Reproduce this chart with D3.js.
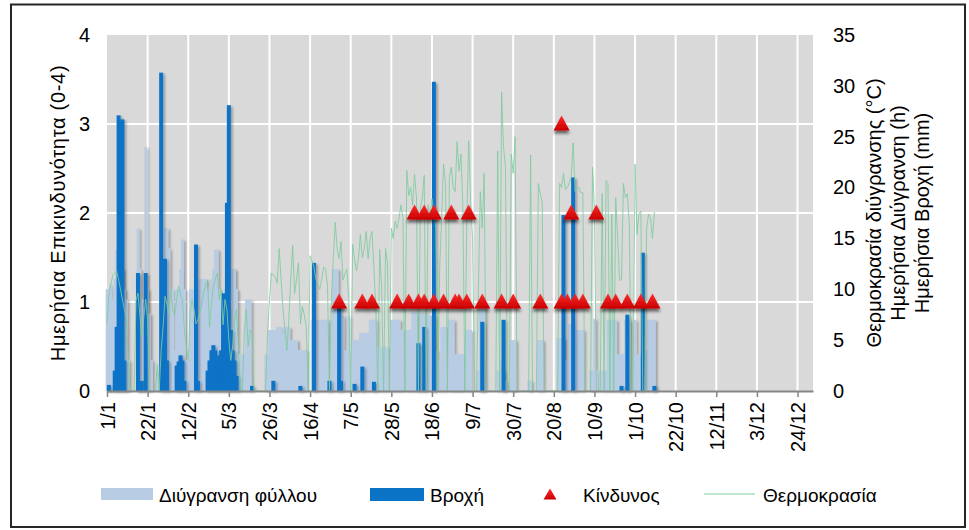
<!DOCTYPE html>
<html>
<head>
<meta charset="utf-8">
<script src="https://cdn.jsdelivr.net/npm/d3@7"></script>
<style>
body { margin: 0; background: #fff; }
text { font-family: Arial, "Liberation Sans", sans-serif; fill: #000; }
</style>
</head>
<body>
<script>
// Daily leaf-wetness risk chart: wetness hours, rain, temperature during wetness and risk level.

var width = 969,
    height = 530,
    margin = {left: 107, top: 35, right: 813, bottom: 391};

// x axis ticks (day of year, starting 1/1)
var tickDays = [0, 21, 42, 63, 84, 105, 126, 147, 168, 189, 210, 231, 252, 273, 294, 315, 336, 357];
var tickLabels = ['1/1', '22/1', '12/2', '5/3', '26/3', '16/4', '7/5', '28/5', '18/6', '9/7',
    '30/7', '20/8', '10/9', '1/10', '22/10', '12/11', '3/12', '24/12'];

// Leaf wetness (h), one value per day from 1/1
var leafWetness = [
    10, 10, 10.5, 9, 11, 13.9, 12, 12, 12, 10,
    9, 3, 0, 0, 0, 0, 16, 12, 9, 8,
    24, 10, 7.6, 3, 0, 0, 2, 0, 10, 12,
    16, 16, 14, 10, 10, 4, 10, 10, 12, 14.9,
    10, 3, 3, 10, 10, 10, 10, 10, 11, 11,
    11, 11, 10, 10, 11, 12, 13.9, 13.9, 10, 9,
    9, 10, 8, 8, 6, 12, 12, 10, 3.6, 3.6,
    3.6, 3.6, 9, 9, 9, 0, 0, 0, 0, 0,
    0, 0, 3.6, 3.6, 6, 6, 6, 6, 6.3, 6.3,
    6.3, 5.7, 6.3, 6.3, 6.3, 5, 5, 5, 5, 4,
    4, 4, 4, 4, 0, 0, 7, 7, 7, 7,
    7, 7, 7, 7, 7, 1, 7, 12, 12, 12,
    7.4, 7.4, 7.4, 4, 4, 7.4, 0, 5, 5, 5,
    5, 5.7, 5.7, 5.7, 5.7, 5.7, 7, 7, 7, 7,
    4.3, 4.3, 4.3, 4.3, 4.3, 4.3, 0, 7, 7, 7,
    7, 7, 6, 6, 0, 6, 6, 6, 7.7, 7.7,
    7.7, 0, 7.7, 7.7, 7.7, 0, 7.4, 7.4, 7.4, 7.4,
    4, 0, 3, 6.3, 6.3, 6.3, 0, 7, 7, 7,
    3.6, 3.6, 3.6, 3.6, 3.6, 0, 6, 6, 6, 0,
    0, 0, 2, 8.3, 8.3, 8.3, 0, 0, 0, 0,
    0, 0, 2, 0, 3, 2, 1, 0, 0, 5,
    5, 5, 0, 0, 0, 0, 0, 0, 1, 1,
    0, 0, 0, 5, 5, 5, 0, 0, 0, 0,
    0, 0, 0, 5.2, 5.2, 5.2, 5.2, 3, 3, 6.6,
    6.6, 6, 6, 6, 6, 6, 6, 0, 0, 0,
    2, 2, 7.1, 2, 0, 2, 2, 2, 2, 7,
    7, 7, 7, 7, 3.6, 3.6, 3.6, 3.6, 7, 7,
    7, 0, 0, 7, 3.6, 3.6, 3.6, 0, 0, 4,
    7, 7, 7, 7
];

// Temperature during wetness (°C), one value per day from 1/1
var temperature = [
    6.7, 9.5, 10.5, 11.4, 11.6, 11.8, 10.9, 10, 9, 8,
    7.4, 3, 0, 0, 0, 8.9, 9.6, 7.5, 5.5, 7.2,
    9, 7, 0, 0, 0, 0, 2.6, 0, 4, 6.3,
    9.3, 8.5, 7.5, 10, 8, 7.4, 9, 10.3, 9.5, 9,
    6, 4.4, 3, 7.7, 9, 8, 6.6, 7, 7.7, 8.5,
    9.7, 10.5, 10.9, 6.3, 8.5, 10.3, 11, 11.6, 9, 10,
    6.5, 9, 8, 5, 3, 4.5, 7, 8, 4, 0.3,
    0, 6, 8, 4.4, 6, 5.7, 0, 0, 0, 0,
    0, 0, 0, 5.5, 9, 11.6, 11.4, 11.2, 10.6, 14,
    11, 8, 6, 4, 7, 11, 14.3, 9.6, 11, 12.6,
    6.6, 8.3, 7.5, 6.3, 0, 13.3, 12.8, 12.2, 11, 10.5,
    10, 11, 12.2, 12, 10.3, 0, 9, 13, 16.6, 14,
    13, 14.7, 10.9, 11.5, 12, 9, 0, 14.4, 13, 11.8,
    13, 15.4, 13.1, 14, 15.7, 13, 15, 15.7, 12, 8,
    0, 13.9, 10, 0, 14, 12.6, 0, 16, 15, 16.7,
    16, 17, 18.3, 17, 0, 21.7, 19.2, 20, 18.3, 21.3,
    19, 0, 18, 19, 21.2, 0, 18.3, 17, 18.9, 17.5,
    16, 0, 12, 17, 22.3, 20.4, 0, 21, 22, 20,
    19.6, 24.5, 21.6, 23.3, 18, 0, 17, 24.6, 18.6, 15,
    0, 0, 10, 19.6, 16, 21.4, 0, 0, 0, 0,
    0, 0, 23.6, 0, 29.4, 24, 22, 0, 0, 23.3,
    21.4, 25, 0, 0, 0, 0, 0, 0, 0, 23.2,
    0, 0, 0, 20.4, 19.4, 18.5, 0, 0, 0, 0,
    0, 0, 0, 0, 20.4, 20, 21.4, 19.8, 20, 20.5,
    21, 24.4, 19.6, 20, 20, 19.5, 19.5, 0, 0, 0,
    0, 22, 18, 0, 0, 0, 19.4, 0, 20.7, 20.4,
    0, 17.4, 0, 19, 15, 10.9, 10.9, 20.4, 19, 19.4,
    16.6, 0, 0, 22.3, 15.4, 17.4, 17.7, 0, 0, 16,
    17.4, 17, 15, 17.6
];

// Rain (mm): [day, mm], only rainy days
var rain = [
    [1, 0.6], [4, 2], [5, 6.3], [6, 27.1], [7, 26.6], [8, 26.7], [9, 3],
    [16, 11.6], [18, 1], [20, 11.6], [28, 31.3], [29, 8], [30, 13], [31, 3],
    [36, 2.5], [37, 2.9], [38, 3.5], [39, 3], [40, 1], [46, 14.4], [47, 1],
    [52, 2], [53, 3], [54, 4], [55, 4.5], [56, 4], [57, 3], [58, 3.5], [59, 4],
    [60, 9.6], [61, 5], [62, 18.5], [63, 28.1], [64, 6], [65, 4], [66, 3], [67, 1.5],
    [75, 0.5], [86, 1], [100, 0.5], [107, 12.6], [115, 1], [120, 8.5], [121, 1],
    [128, 0.7], [132, 2.4], [138, 0.9], [161, 4.7], [164, 6.3], [169, 30.4],
    [194, 6.8], [205, 7], [236, 17.3], [241, 21], [266, 0.5], [269, 7.5],
    [277, 13.6], [283, 0.5]
];

// Risk (0-4): [day, level]
var risk = [
    [120, 1], [132, 1], [137, 1], [150, 1], [156, 1], [161, 1], [164, 1], [169, 1],
    [174, 1], [180, 1], [182, 1], [186, 1], [194, 1], [204, 1], [210, 1], [224, 1],
    [235, 1], [238, 1], [242, 1], [246, 1], [259, 1], [263, 1], [269, 1], [276, 1], [282, 1],
    [159, 2], [164, 2], [169, 2], [178, 2], [187, 2], [240, 2], [253, 2],
    [235, 3]
];

var colors = {
    wet: '#b8cce4',
    rain: '#0b73c6',
    risk: '#e00000',
    temp: '#7fcb9e',
    tempLegend: '#a8dfc2',
    plotBg: '#d9d9d9',
    axis: '#868686'
};

var svg = d3.select('body').append('svg')
    .attr('width', width)
    .attr('height', height);

var defs = svg.append('defs');

var shadow = defs.append('filter')
    .attr('id', 'shadow')
    .attr('x', '-20%').attr('y', '-20%')
    .attr('width', '140%').attr('height', '140%');
shadow.append('feDropShadow')
    .attr('dx', 2).attr('dy', 1.5)
    .attr('stdDeviation', 1)
    .attr('flood-color', '#000')
    .attr('flood-opacity', 0.28);

var triShadow = defs.append('filter')
    .attr('id', 'triShadow')
    .attr('x', '-50%').attr('y', '-50%')
    .attr('width', '200%').attr('height', '200%');
triShadow.append('feDropShadow')
    .attr('dx', 0).attr('dy', 3)
    .attr('stdDeviation', 1.8)
    .attr('flood-color', '#000')
    .attr('flood-opacity', 0.55);

var triGrad = defs.append('linearGradient')
    .attr('id', 'triGrad')
    .attr('x1', 0).attr('y1', 0).attr('x2', 0).attr('y2', 1);
triGrad.append('stop').attr('offset', '0%').attr('stop-color', '#ff2a2a');
triGrad.append('stop').attr('offset', '100%').attr('stop-color', '#c80000');

// outer frame
svg.append('rect')
    .attr('x', 11).attr('y', 4.5)
    .attr('width', 954).attr('height', 522.5)
    .attr('fill', 'none')
    .attr('stroke', '#262626')
    .attr('stroke-width', 2);

var xs = d3.scaleLinear().domain([0, 365]).range([margin.left, margin.right]);
var yLeft = d3.scaleLinear().domain([0, 4]).range([margin.bottom, margin.top]);
var yRight = d3.scaleLinear().domain([0, 35]).range([margin.bottom, margin.top]);

// plot area and grid
svg.append('rect')
    .attr('x', margin.left).attr('y', margin.top)
    .attr('width', margin.right - margin.left)
    .attr('height', margin.bottom - margin.top)
    .attr('fill', colors.plotBg);

var grid = svg.append('g');
grid.selectAll('.hgrid')
    .data([1, 2, 3])
    .enter()
    .append('line')
    .attr('x1', margin.left).attr('x2', margin.right)
    .attr('y1', function(d) { return yLeft(d); })
    .attr('y2', function(d) { return yLeft(d); })
    .attr('stroke', '#fff')
    .attr('stroke-width', 2);
grid.selectAll('.vgrid')
    .data(tickDays.slice(1))
    .enter()
    .append('line')
    .attr('x1', function(d) { return xs(d); })
    .attr('x2', function(d) { return xs(d); })
    .attr('y1', margin.top).attr('y2', margin.bottom)
    .attr('stroke', '#fff')
    .attr('stroke-width', 2);

// leaf wetness columns
svg.append('g')
    .attr('filter', 'url(#shadow)')
    .selectAll('rect')
    .data(leafWetness)
    .enter()
    .append('rect')
    .attr('x', function(d, i) { return xs(i) - 1.3; })
    .attr('width', 2.6)
    .attr('y', function(d) { return yRight(d); })
    .attr('height', function(d) { return yRight(0) - yRight(d); })
    .attr('fill', colors.wet);

// rain columns
svg.append('g')
    .attr('filter', 'url(#shadow)')
    .selectAll('rect')
    .data(rain)
    .enter()
    .append('rect')
    .attr('x', function(d) { return xs(d[0]) - 2; })
    .attr('width', 4)
    .attr('y', function(d) { return yRight(d[1]); })
    .attr('height', function(d) { return yRight(0) - yRight(d[1]); })
    .attr('fill', colors.rain);

// temperature line
var tempLine = d3.line()
    .x(function(d, i) { return xs(i); })
    .y(function(d) { return yRight(d); });

svg.append('path')
    .datum(temperature)
    .attr('d', tempLine)
    .attr('fill', 'none')
    .attr('stroke', colors.temp)
    .attr('stroke-opacity', 0.85)
    .attr('stroke-width', 1);

// risk markers
function triangle(w, h) {
    return 'M0,' + (-h / 2) + 'L' + (w / 2) + ',' + (h / 2) + 'L' + (-w / 2) + ',' + (h / 2) + 'Z';
}

svg.append('g')
    .attr('filter', 'url(#triShadow)')
    .selectAll('path')
    .data(risk)
    .enter()
    .append('path')
    .attr('transform', function(d) { return 'translate(' + xs(d[0]) + ',' + (yLeft(d[1]) - 1) + ')'; })
    .attr('d', triangle(16, 15))
    .attr('fill', 'url(#triGrad)');

// axes
var xAxis = svg.append('g')
    .attr('transform', 'translate(0,' + margin.bottom + ')')
    .call(d3.axisBottom(xs)
        .tickValues(tickDays)
        .tickFormat(function(d, i) { return tickLabels[i]; })
        .tickSize(6)
        .tickSizeOuter(0));
xAxis.select('.domain').attr('stroke', colors.axis).attr('stroke-width', 2);
xAxis.selectAll('.tick line').attr('stroke', colors.axis).attr('stroke-width', 1.5);
xAxis.selectAll('.tick text')
    .attr('transform', 'rotate(-90)')
    .attr('x', -11)
    .attr('y', 0)
    .attr('dy', '0.35em')
    .attr('text-anchor', 'end')
    .style('font-size', '20px')
    .style('font-family', 'Arial, "Liberation Sans", sans-serif')
    .attr('fill', '#000');

var leftAxis = svg.append('g')
    .attr('transform', 'translate(' + margin.left + ',0)')
    .call(d3.axisLeft(yLeft).ticks(4).tickSize(0).tickPadding(17));
leftAxis.select('.domain').remove();

var rightAxis = svg.append('g')
    .attr('transform', 'translate(' + margin.right + ',0)')
    .call(d3.axisRight(yRight).tickValues(d3.range(0, 36, 5)).tickSize(0).tickPadding(20));
rightAxis.select('.domain').remove();

svg.selectAll('.tick text')
    .style('font-size', '20px')
    .style('font-family', 'Arial, "Liberation Sans", sans-serif')
    .attr('fill', '#000');

// axis titles
var midY = (margin.top + margin.bottom) / 2;
svg.append('text')
    .attr('transform', 'translate(65,' + midY + ') rotate(-90)')
    .attr('text-anchor', 'middle')
    .style('font-size', '20px')
    .style('letter-spacing', '0.7px')
    .text('Ημερήσια Επικινδυνότητα (0-4)');

var rightTitles = ['Θερμοκρασία διύγρανσης (°C)', 'Ημερήσια Διύγρανση (h)', 'Ημερήσια Βροχή (mm)'];
svg.selectAll('.rtitle')
    .data(rightTitles)
    .enter()
    .append('text')
    .attr('transform', function(d, i) { return 'translate(' + (881 + 24 * i) + ',' + midY + ') rotate(-90)'; })
    .attr('text-anchor', 'middle')
    .style('font-size', '20px')
    .text(function(d) { return d; });

// legend
var legend = svg.append('g').style('font-size', '19px');
legend.append('rect')
    .attr('x', 101).attr('y', 488).attr('width', 52).attr('height', 12)
    .attr('fill', colors.wet);
legend.append('text').attr('x', 159).attr('y', 502).text('Διύγρανση φύλλου');
legend.append('rect')
    .attr('x', 370).attr('y', 488).attr('width', 54).attr('height', 13)
    .attr('fill', colors.rain);
legend.append('text').attr('x', 430).attr('y', 502).text('Βροχή');
legend.append('path')
    .attr('transform', 'translate(550,494)')
    .attr('d', triangle(13, 11))
    .attr('fill', 'url(#triGrad)');
legend.append('text').attr('x', 583).attr('y', 502).text('Κίνδυνος');
legend.append('line')
    .attr('x1', 704).attr('x2', 755)
    .attr('y1', 494).attr('y2', 494)
    .attr('stroke', colors.tempLegend)
    .attr('stroke-width', 1.5);
legend.append('text').attr('x', 763).attr('y', 502).text('Θερμοκρασία');
</script>
</body>
</html>
